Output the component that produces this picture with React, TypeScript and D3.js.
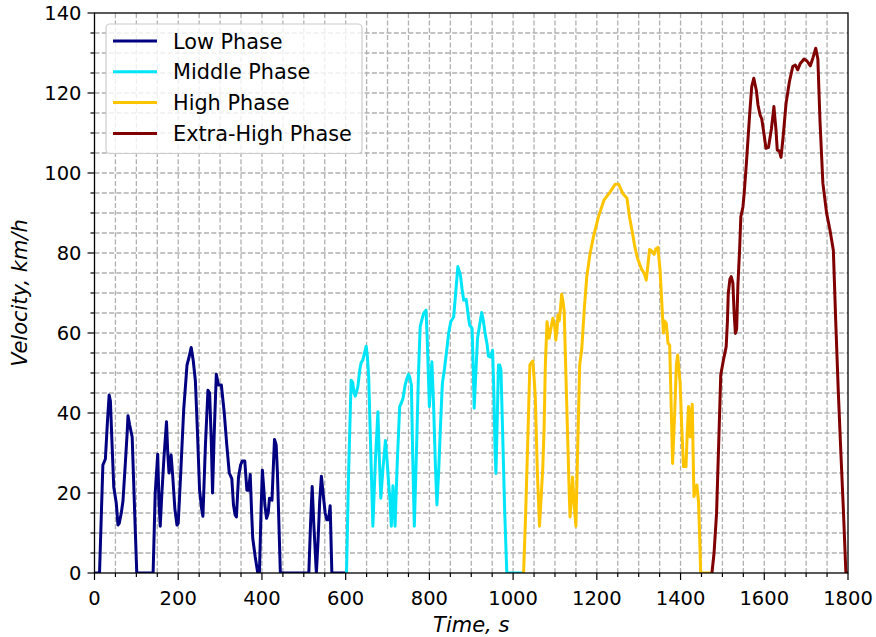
import * as d3 from "d3";

// WLTC-style drive cycle: [time s, velocity km/h]
const lowPhase: [number, number][] = [
  [0, 0], [12, 0], [20, 27], [26, 28.5], [31, 38], [35, 44.5], [38, 43], [42, 32], [46, 21.5],
  [52, 17.5], [56, 12], [59, 12.4], [64, 15], [68, 18], [74, 28], [78, 35], [80, 39.3], [84, 37],
  [90, 34], [96, 15], [101, 0], [140, 0], [145, 20], [151, 29.7], [154, 18], [157, 11.7], [161, 20],
  [166, 29], [172, 37.8], [175, 30], [178, 25], [183, 29.5], [187, 24], [192, 16], [197, 12],
  [200, 12.4], [206, 25], [213, 40.7], [221, 52], [226, 54], [231, 56.4], [236, 53], [241, 48],
  [246, 35], [251, 20.7], [256, 16], [259, 14.2], [265, 32], [271, 45.7], [275, 45], [279, 33],
  [282, 20], [286, 35], [291, 49.7], [296, 47], [303, 47], [310, 40], [316, 32], [322, 25],
  [328, 23.6], [332, 17], [336, 14.5], [339, 14], [344, 24], [349, 27], [353, 28], [359, 28],
  [364, 20.7], [368, 20.7], [372, 24.6], [375, 16], [378, 8.7], [384, 4], [390, 0], [394, 0],
  [398, 16], [401, 25.7], [404, 21.6], [407, 17], [411, 13.7], [415, 15], [418, 18.7], [424, 18.2],
  [427, 26], [430, 33.4], [434, 32], [437, 25], [444, 0], [512, 0], [516, 12], [520, 21.6],
  [524, 12], [530, 0], [534, 8], [538, 18], [542, 24.2], [547, 19], [551, 15], [555, 13.3],
  [559, 13.3], [563, 16.8], [567, 0], [600, 0],
];

const middlePhase: [number, number][] = [
  [600, 0], [602, 0], [607, 25], [613, 48.2], [617, 47.6], [620, 45], [623, 44.2], [629, 46.5],
  [634, 51], [637, 52.6], [641, 53.2], [645, 55], [649, 56.7], [652, 54], [655, 49], [660, 30],
  [665, 11.7], [671, 28], [677, 40.3], [680, 30], [684, 18.7], [689, 26], [695, 33.1], [699, 28],
  [703, 22], [706, 18], [709, 11.7], [713, 21.8], [716, 16], [718, 11.7], [723, 27], [729, 41.6],
  [733, 42.5], [737, 43.7], [742, 47], [746, 48.5], [750, 49.7], [753, 49], [757, 47], [760, 30],
  [764, 11.7], [769, 30], [774, 50], [778, 61.6], [786, 64.9], [792, 65.7], [795, 58], [798, 48],
  [800, 41.6], [803, 48], [806, 52.8], [810, 42], [814, 28], [818, 17], [822, 25], [827, 38],
  [831, 47.4], [836, 51], [842, 56.2], [846, 60], [851, 62.8], [858, 64], [862, 69], [868, 76.6],
  [874, 74.5], [878, 71], [882, 68.2], [888, 68.4], [892, 65], [896, 62], [902, 61.2], [905, 50],
  [907, 41.2], [911, 50], [915, 58.7], [920, 62], [925, 65.1], [929, 63], [933, 60], [938, 57],
  [941, 54.2], [946, 54], [951, 55.7], [954, 45], [957, 30], [959, 24.9], [962, 38], [965, 52],
  [968, 52], [971, 50.7], [975, 35], [980, 15], [985, 0], [1025, 0],
];

const highPhase: [number, number][] = [
  [1025, 0], [1030, 15], [1035, 33], [1040, 52], [1047, 53], [1050, 49], [1053, 44], [1058, 25],
  [1063, 11.7], [1067, 19], [1071, 26.6], [1074, 36], [1077, 52], [1081, 62.8], [1086, 58.7],
  [1090, 61], [1095, 63.7], [1099, 62], [1102, 58.2], [1105, 61], [1107, 64.5], [1110, 63],
  [1113, 66], [1116, 69.7], [1119, 68], [1122, 65.4], [1126, 50], [1130, 35], [1134, 20],
  [1136, 14], [1140, 20], [1142, 24], [1146, 17], [1150, 11.7], [1154, 30], [1159, 52], [1164, 56],
  [1170, 66], [1176, 74.1], [1184, 80], [1192, 84.1], [1204, 89.1], [1217, 93.2], [1232, 95.3],
  [1244, 97.2], [1252, 97.2], [1262, 94.9], [1272, 93.7], [1278, 89], [1284, 85.7], [1290, 82],
  [1297, 78.7], [1307, 75.9], [1313, 75], [1318, 73.2], [1322, 77], [1326, 80.9], [1331, 80.5],
  [1337, 79.7], [1341, 81], [1346, 81.4], [1351, 75.7], [1355, 68], [1359, 60], [1362, 63],
  [1366, 62.4], [1370, 57.4], [1374, 57], [1378, 40], [1381, 27.4], [1386, 40], [1390, 52],
  [1393, 54.5], [1396, 51], [1399, 47.4], [1403, 36], [1407, 26.6], [1413, 26.6], [1416, 35],
  [1419, 41.6], [1423, 34], [1426, 40], [1428, 42.2], [1430, 30], [1432, 19.1], [1436, 21],
  [1439, 22], [1443, 17.8], [1446, 8], [1448, 0], [1475, 0],
];

const extraHighPhase: [number, number][] = [
  [1475, 0], [1480, 5], [1486, 14.9], [1491, 32], [1496, 49.5], [1502, 53], [1509, 56.6],
  [1512, 63], [1514, 69.9], [1518, 73.5], [1521, 74.1], [1525, 72.5], [1528, 65], [1531, 59.9],
  [1534, 61], [1537, 72], [1541, 80.7], [1544, 89.1], [1549, 91.5], [1552, 94.9], [1557, 102],
  [1562, 109.9], [1566, 116], [1570, 121.6], [1575, 123.7], [1581, 120.7], [1585, 117],
  [1590, 114.5], [1594, 113.5], [1599, 110], [1604, 106.2], [1610, 106.4], [1617, 111],
  [1623, 116.6], [1628, 110.7], [1631, 105.7], [1636, 105.5], [1640, 103.9], [1645, 109],
  [1652, 117.4], [1660, 122.8], [1668, 126.6], [1674, 127], [1680, 125.8], [1686, 127.4],
  [1695, 128.5], [1702, 128], [1710, 126.8], [1716, 128.7], [1723, 131.2], [1728, 128.5],
  [1733, 113.2], [1740, 97.4], [1749, 89.9], [1757, 85.7], [1765, 80.7], [1771, 62], [1777, 44.9],
  [1783, 30], [1789, 15.7], [1795, 0], [1800, 0],
];

const phaseNames = ["Low Phase", "Middle Phase", "High Phase", "Extra-High Phase"];
const phaseColors = ["#000080", "#00e5f8", "#ffc400", "#800000"];
const phases = [lowPhase, middlePhase, highPhase, extraHighPhase];

const xMajorTicks = [0, 200, 400, 600, 800, 1000, 1200, 1400, 1600, 1800];
const yMajorTicks = [0, 20, 40, 60, 80, 100, 120, 140];

const W = 876;
const H = 637;
const margin = { top: 13, right: 28, bottom: 64, left: 94.5 };
const font = "DejaVu Sans, sans-serif";

export default function App() {
  const x = d3.scaleLinear().domain([0, 1800]).range([margin.left, W - margin.right]);
  const y = d3.scaleLinear().domain([0, 140]).range([H - margin.bottom, margin.top]);
  const x0 = x.range()[0];
  const x1 = x.range()[1];
  const y0 = y.range()[0];
  const y1 = y.range()[1];

  const line = d3
    .line<[number, number]>()
    .x((d) => x(d[0]))
    .y((d) => y(d[1]));

  // minor grid every 50 s / 5 km/h, major ones fall on the same lines
  const xGrid = d3.range(50, 1800, 50);
  const yGrid = d3.range(5, 140, 5);
  const xMinor = d3.range(0, 1801, 50).filter((v) => v % 200 !== 0);
  const yMinor = d3.range(0, 141, 5).filter((v) => v % 20 !== 0);

  return (
    <svg width={W} height={H} style={{ position: "absolute", left: 0, top: 0 }} fontFamily={font}>
      <rect width={W} height={H} fill="#fff" />
      <defs>
        <clipPath id="plot-clip">
          <rect x={x0} y={y1} width={x1 - x0} height={y0 - y1} />
        </clipPath>
      </defs>

      {/* grid */}
      <g stroke="#b0b0b0" strokeWidth={1.3} strokeDasharray="5,2.3">
        {xGrid.map((v) => (
          <line key={"gx" + v} x1={x(v)} x2={x(v)} y1={y0} y2={y1} />
        ))}
        {yGrid.map((v) => (
          <line key={"gy" + v} x1={x0} x2={x1} y1={y(v)} y2={y(v)} />
        ))}
      </g>

      {/* data */}
      <g clipPath="url(#plot-clip)" fill="none" strokeWidth={3} strokeLinejoin="round" strokeLinecap="butt">
        {phases.map((p, i) => (
          <path key={i} d={line(p) ?? ""} stroke={phaseColors[i]} />
        ))}
      </g>

      {/* spines */}
      <rect x={x0} y={y1} width={x1 - x0} height={y0 - y1} fill="none" stroke="#000" strokeWidth={1.3} />

      {/* ticks */}
      <g stroke="#000" strokeWidth={1.2}>
        {xMajorTicks.map((v) => (
          <line key={"xt" + v} x1={x(v)} x2={x(v)} y1={y0} y2={y0 + 7} />
        ))}
        {xMinor.map((v) => (
          <line key={"xm" + v} x1={x(v)} x2={x(v)} y1={y0} y2={y0 + 4} />
        ))}
        {yMajorTicks.map((v) => (
          <line key={"yt" + v} x1={x0} x2={x0 - 7} y1={y(v)} y2={y(v)} />
        ))}
        {yMinor.map((v) => (
          <line key={"ym" + v} x1={x0} x2={x0 - 4} y1={y(v)} y2={y(v)} />
        ))}
      </g>
      <g fontSize={19.5} fill="#000">
        {xMajorTicks.map((v) => (
          <text key={"xl" + v} x={x(v)} y={y0 + 32} textAnchor="middle">
            {v}
          </text>
        ))}
        {yMajorTicks.map((v) => (
          <text key={"yl" + v} x={x0 - 13} y={y(v) + 7} textAnchor="end">
            {v}
          </text>
        ))}
      </g>

      {/* axis labels */}
      <text x={(x0 + x1) / 2} y={632} textAnchor="middle" fontSize={21} fontStyle="italic">
        Time, s
      </text>
      <text
        transform={`translate(27,${(y0 + y1) / 2}) rotate(-90)`}
        textAnchor="middle"
        fontSize={21}
        fontStyle="italic"
      >
        Velocity, km/h
      </text>

      {/* legend */}
      <g>
        <rect x={106} y={24} width={256} height={129.5} rx={4} fill="#fff" fillOpacity={0.8} stroke="#cccccc" strokeWidth={1.2} />
        {phaseNames.map((name, i) => (
          <g key={name} transform={`translate(0,${41 + i * 30.8})`}>
            <line x1={113} x2={157} y1={0} y2={0} stroke={phaseColors[i]} strokeWidth={3} />
            <text x={173} y={7.5} fontSize={20.8}>
              {name}
            </text>
          </g>
        ))}
      </g>
    </svg>
  );
}
